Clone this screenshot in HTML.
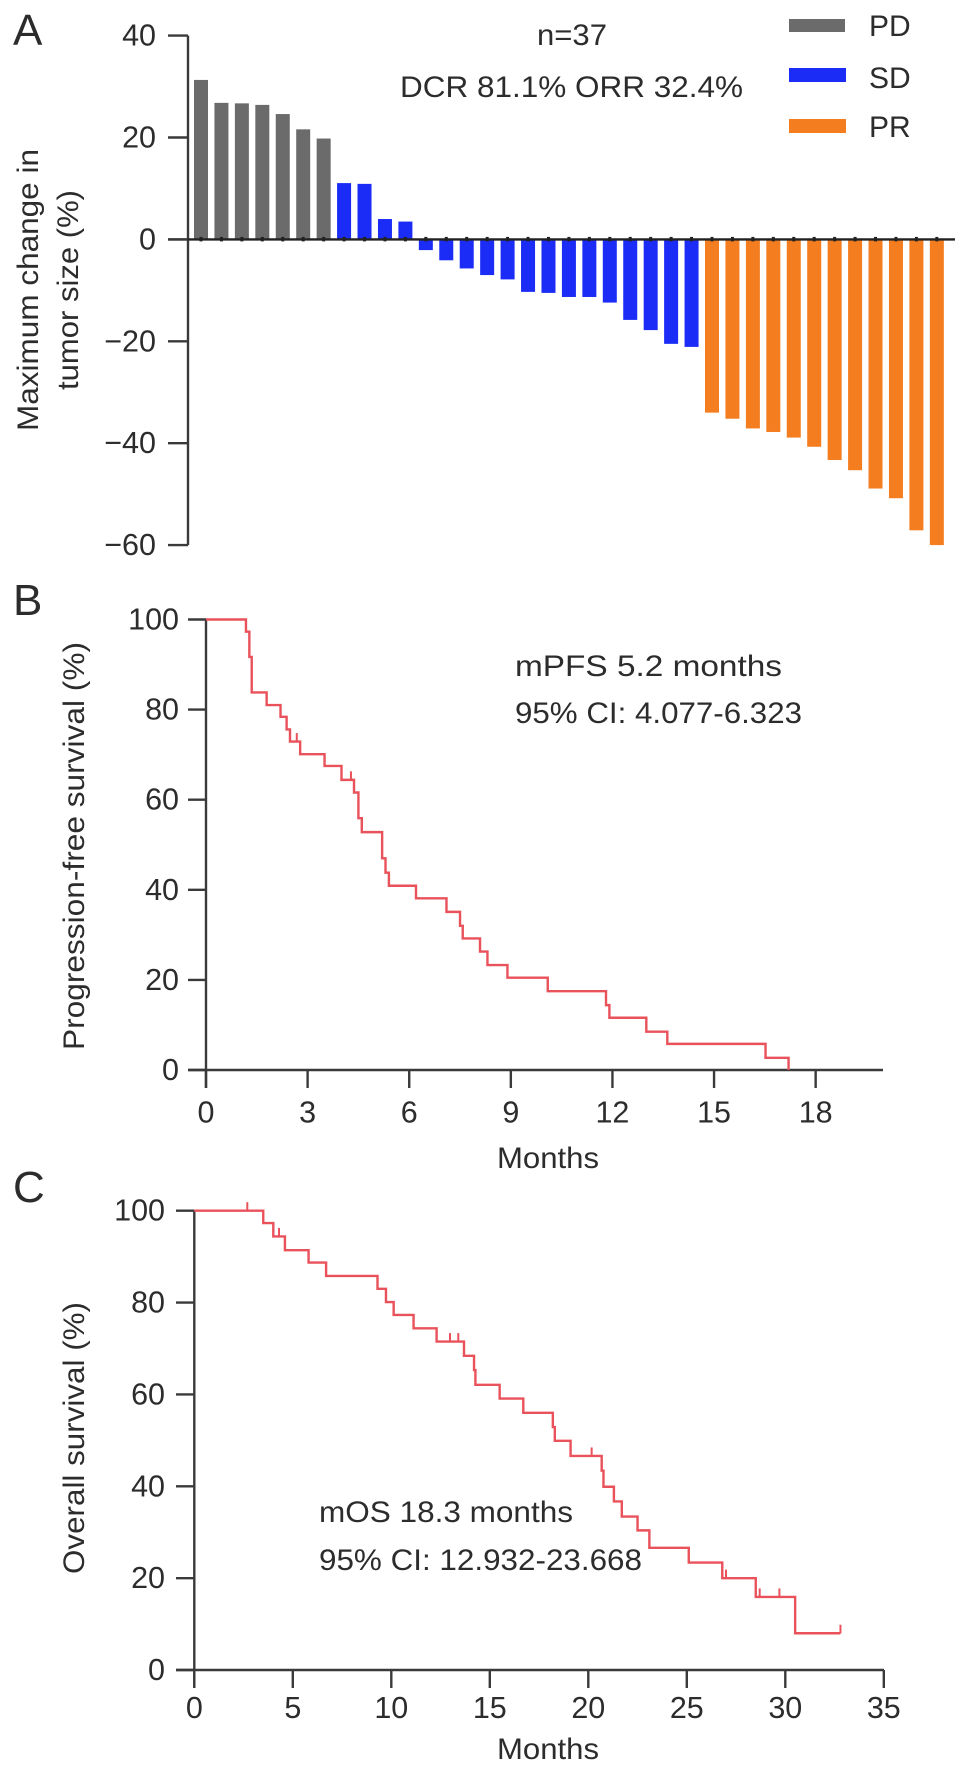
<!DOCTYPE html>
<html lang="en">
<head>
<meta charset="utf-8">
<title>Tumor response and survival</title>
<style>
html,body{margin:0;padding:0;background:#fff;}
svg{display:block;filter:blur(.35px);}
text{font-family:"Liberation Sans",sans-serif;fill:#2c2c2c;}
</style>
</head>
<body>
<svg id="figure" xmlns="http://www.w3.org/2000/svg" width="969" height="1773" viewBox="0 0 969 1773">
  <rect x="0" y="0" width="969" height="1773" fill="#fff"/>

  <text x="13" y="45" font-size="44">A</text>
  <text x="13" y="615" font-size="44">B</text>
  <text x="13" y="1202" font-size="44">C</text>

  <g id="panelA"></g>
  <g id="panelB"></g>
  <g id="panelC"></g>

  <text transform="translate(38,290) rotate(-90)" text-anchor="middle" font-size="30" textLength="282" lengthAdjust="spacingAndGlyphs">Maximum change in</text>
  <text transform="translate(78,290) rotate(-90)" text-anchor="middle" font-size="30" textLength="200" lengthAdjust="spacingAndGlyphs">tumor size (%)</text>
  <text x="537" y="45" font-size="30" textLength="70" lengthAdjust="spacingAndGlyphs">n=37</text>
  <text x="400" y="97" font-size="30" textLength="343" lengthAdjust="spacingAndGlyphs">DCR 81.1% ORR 32.4%</text>

  <g>
    <rect x="789" y="19" width="56" height="13" fill="#6b6b6b"/>
    <text x="869" y="36" font-size="30">PD</text>
    <rect x="789" y="68" width="57" height="14" fill="#1a2cf5"/>
    <text x="869" y="88" font-size="30">SD</text>
    <rect x="789" y="119" width="57" height="14" fill="#f47d20"/>
    <text x="869" y="137" font-size="30">PR</text>
  </g>

  <text transform="translate(84,846) rotate(-90)" text-anchor="middle" font-size="30" textLength="408" lengthAdjust="spacingAndGlyphs">Progression-free survival (%)</text>
  <text x="497" y="1168" font-size="30" textLength="102" lengthAdjust="spacingAndGlyphs">Months</text>
  <text x="515" y="676" font-size="30" textLength="267" lengthAdjust="spacingAndGlyphs">mPFS 5.2 months</text>
  <text x="515" y="723" font-size="30" textLength="287" lengthAdjust="spacingAndGlyphs">95% CI: 4.077-6.323</text>

  <text transform="translate(84,1438) rotate(-90)" text-anchor="middle" font-size="30" textLength="272" lengthAdjust="spacingAndGlyphs">Overall survival (%)</text>
  <text x="497" y="1759" font-size="30" textLength="102" lengthAdjust="spacingAndGlyphs">Months</text>
  <text x="319" y="1522" font-size="30" textLength="254" lengthAdjust="spacingAndGlyphs">mOS 18.3 months</text>
  <text x="319" y="1570" font-size="30" textLength="323" lengthAdjust="spacingAndGlyphs">95% CI: 12.932-23.668</text>
</svg>

<script>
// Panel A data
const barValues = [31.3,26.8,26.7,26.4,24.6,21.6,19.8,11.05,10.9,4.0,3.5,-2.1,-4.1,-5.7,-7.0,-7.85,-10.3,-10.5,-11.3,-11.3,-12.4,-15.8,-17.8,-20.5,-21.1,-34.0,-35.2,-37.1,-37.8,-38.9,-40.7,-43.3,-45.3,-48.9,-50.8,-57.1,-60.0];
const barGroups = ['PD','PD','PD','PD','PD','PD','PD','SD','SD','SD','SD','SD','SD','SD','SD','SD','SD','SD','SD','SD','SD','SD','SD','SD','SD','PR','PR','PR','PR','PR','PR','PR','PR','PR','PR','PR','PR'];
const waterfallTicks = [40,20,0,-20,-40,-60];

// Panel B data
const survivalTicks = [0,20,40,60,80,100];
const pfsTickMonths = [0,3,6,9,12,15,18];
const pfsEventMonths = [1.18,1.28,1.35,1.79,2.2,2.38,2.48,2.78,3.5,4.0,4.37,4.5,4.6,5.2,5.3,5.4,6.2,7.1,7.5,7.58,8.09,8.31,8.9,10.09,11.81,11.91,13.0,13.62,16.52,17.2];
const pfsEventSurvival = [97.3,91.7,83.8,81,78.4,75.6,72.9,70.1,67.5,64.4,61.6,55.9,52.8,47,43.8,40.9,38.1,35.1,32,29.2,26.3,23.3,20.5,17.5,14.4,11.6,8.5,5.8,2.7,0];
const pfsCensorMonths = [2.68,4.28];

// Panel C data
const osTickMonths = [0,5,10,15,20,25,30,35];
const osEventMonths = [3.5,4.01,4.6,5.8,6.69,9.3,9.73,10.12,11.13,12.3,13.69,14.2,14.27,15.5,16.7,18.2,18.3,19.1,20.68,20.77,21.3,21.7,22.5,23.1,25.1,26.8,28.5,30.5];
const osEventSurvival = [97.3,94.4,91.4,88.7,85.8,83,80.1,77.3,74.4,71.5,68.4,65.3,62.1,59.1,56,52.9,49.9,46.6,43.4,39.9,36.7,33.4,30.4,26.6,23.4,20,15.9,8];
const osCensorMonths = [2.69,4.3,12.98,13.4,20.17,26.99,28.7,29.7,32.8];
const osLastMonth = 32.8;

const SVG_NS = 'http://www.w3.org/2000/svg';
const AXIS = '#3a3a3a';
const RED = '#e9525a';
const groupColor = {PD:'#6b6b6b', SD:'#1a2cf5', PR:'#f47d20'};

function make(parent, tag, attrs, txt) {
  const el = document.createElementNS(SVG_NS, tag);
  for (const k in attrs) el.setAttribute(k, attrs[k]);
  if (txt !== undefined) el.textContent = txt;
  parent.appendChild(el);
  return el;
}
function axisLine(parent, x1, y1, x2, y2) {
  return make(parent, 'line', {x1, y1, x2, y2, stroke: AXIS, 'stroke-width': 2.4});
}
function fmt(v) { return v < 0 ? '\u2212' + Math.abs(v) : String(v); }

// ---------- Panel A ----------
(function () {
  const g = document.getElementById('panelA');
  const yA = v => 239.4 - v * 5.095;
  const xA = i => 201 + i * 20.44;

  barValues.forEach(function (v, i) {
    const top = Math.min(yA(v), yA(0));
    const h = Math.abs(yA(v) - yA(0));
    const bar = make(g, 'rect', {x: xA(i) - 7, y: top, width: 14, height: h, fill: groupColor[barGroups[i]]});
    
    
  });

  const yAxis = axisLine(g, 188, yA(40), 188, yA(-60));
  
  

  const zero = make(g, 'line', {x1: 168, y1: yA(0), x2: 955, y2: yA(0), stroke: '#222', 'stroke-width': 2.4});
  
  

  barValues.forEach(function (v, i) {
    const nub = make(g, 'line', {x1: xA(i), y1: yA(0) - 2.5, x2: xA(i), y2: yA(0) + 2, stroke: '#222', 'stroke-width': 3});
    
    
  });

  waterfallTicks.forEach(function (t) {
    const tick = axisLine(g, 168, yA(t), 188, yA(t));
    
    
    const label = make(g, 'text', {x: 156, y: yA(t) + 10, 'text-anchor': 'end', 'font-size': 30.5}, fmt(t));
    
    
  });
})();

// ---------- Survival panels ----------
function survivalAt(months, surv, m) {
  let s = 100;
  for (let i = 0; i < months.length; i++) { if (months[i] <= m) s = surv[i]; }
  return s;
}
function survivalPanel(cfg) {
  const g = document.getElementById(cfg.id);
  const xS = cfg.x;
  const yS = cfg.y;

  let d = 'M' + xS(0) + ' ' + yS(100);
  let cur = 100;
  cfg.months.forEach(function (m, i) {
    d += 'L' + xS(m) + ' ' + yS(cur) + 'L' + xS(m) + ' ' + yS(cfg.surv[i]);
    cur = cfg.surv[i];
  });
  if (cfg.end !== undefined) d += 'L' + xS(cfg.end) + ' ' + yS(cur);

  const yAxis = axisLine(g, xS(0), yS(100), xS(0), cfg.tickBottom);
  
  
  const xAxis = axisLine(g, cfg.left, yS(0), cfg.right, yS(0));
  
  

  cfg.yTicks.forEach(function (t) {
    const tick = axisLine(g, cfg.left, yS(t), xS(0), yS(t));
    
    
    const label = make(g, 'text', {x: cfg.labelRight, y: yS(t) + 10, 'text-anchor': 'end', 'font-size': 30.5}, fmt(t));
    
    
  });
  cfg.xTicks.forEach(function (t) {
    const tick = axisLine(g, xS(t), yS(0), xS(t), cfg.tickBottom);
    
    
    const label = make(g, 'text', {x: xS(t), y: cfg.xLabelY, 'text-anchor': 'middle', 'font-size': 30.5}, fmt(t));
    
    
  });

  const curve = make(g, 'path', {d: d, fill: 'none', stroke: RED, 'stroke-width': 2.4, 'stroke-linejoin': 'miter'});
  
  

  cfg.censor.forEach(function (m) {
    const s = survivalAt(cfg.months, cfg.surv, m);
    const mark = make(g, 'line', {x1: xS(m), y1: yS(s), x2: xS(m), y2: yS(s) - 8.5, stroke: RED, 'stroke-width': 2});
    
    
  });
}

survivalPanel({
  id: 'panelB', key: 'b',
  x: m => 206 + m * 33.87,
  y: s => 1070 - s * 4.505,
  months: pfsEventMonths, surv: pfsEventSurvival, censor: pfsCensorMonths,
  yTicks: survivalTicks, xTicks: pfsTickMonths,
  left: 188, right: 883, tickBottom: 1088, labelRight: 179, xLabelY: 1122.7
});
survivalPanel({
  id: 'panelC', key: 'c',
  x: m => 194.3 + m * 19.7,
  y: s => 1670 - s * 4.593,
  months: osEventMonths, surv: osEventSurvival, censor: osCensorMonths, end: osLastMonth,
  yTicks: survivalTicks, xTicks: osTickMonths,
  left: 176, right: 884, tickBottom: 1688, labelRight: 165, xLabelY: 1718
});
</script>
</body>
</html>
